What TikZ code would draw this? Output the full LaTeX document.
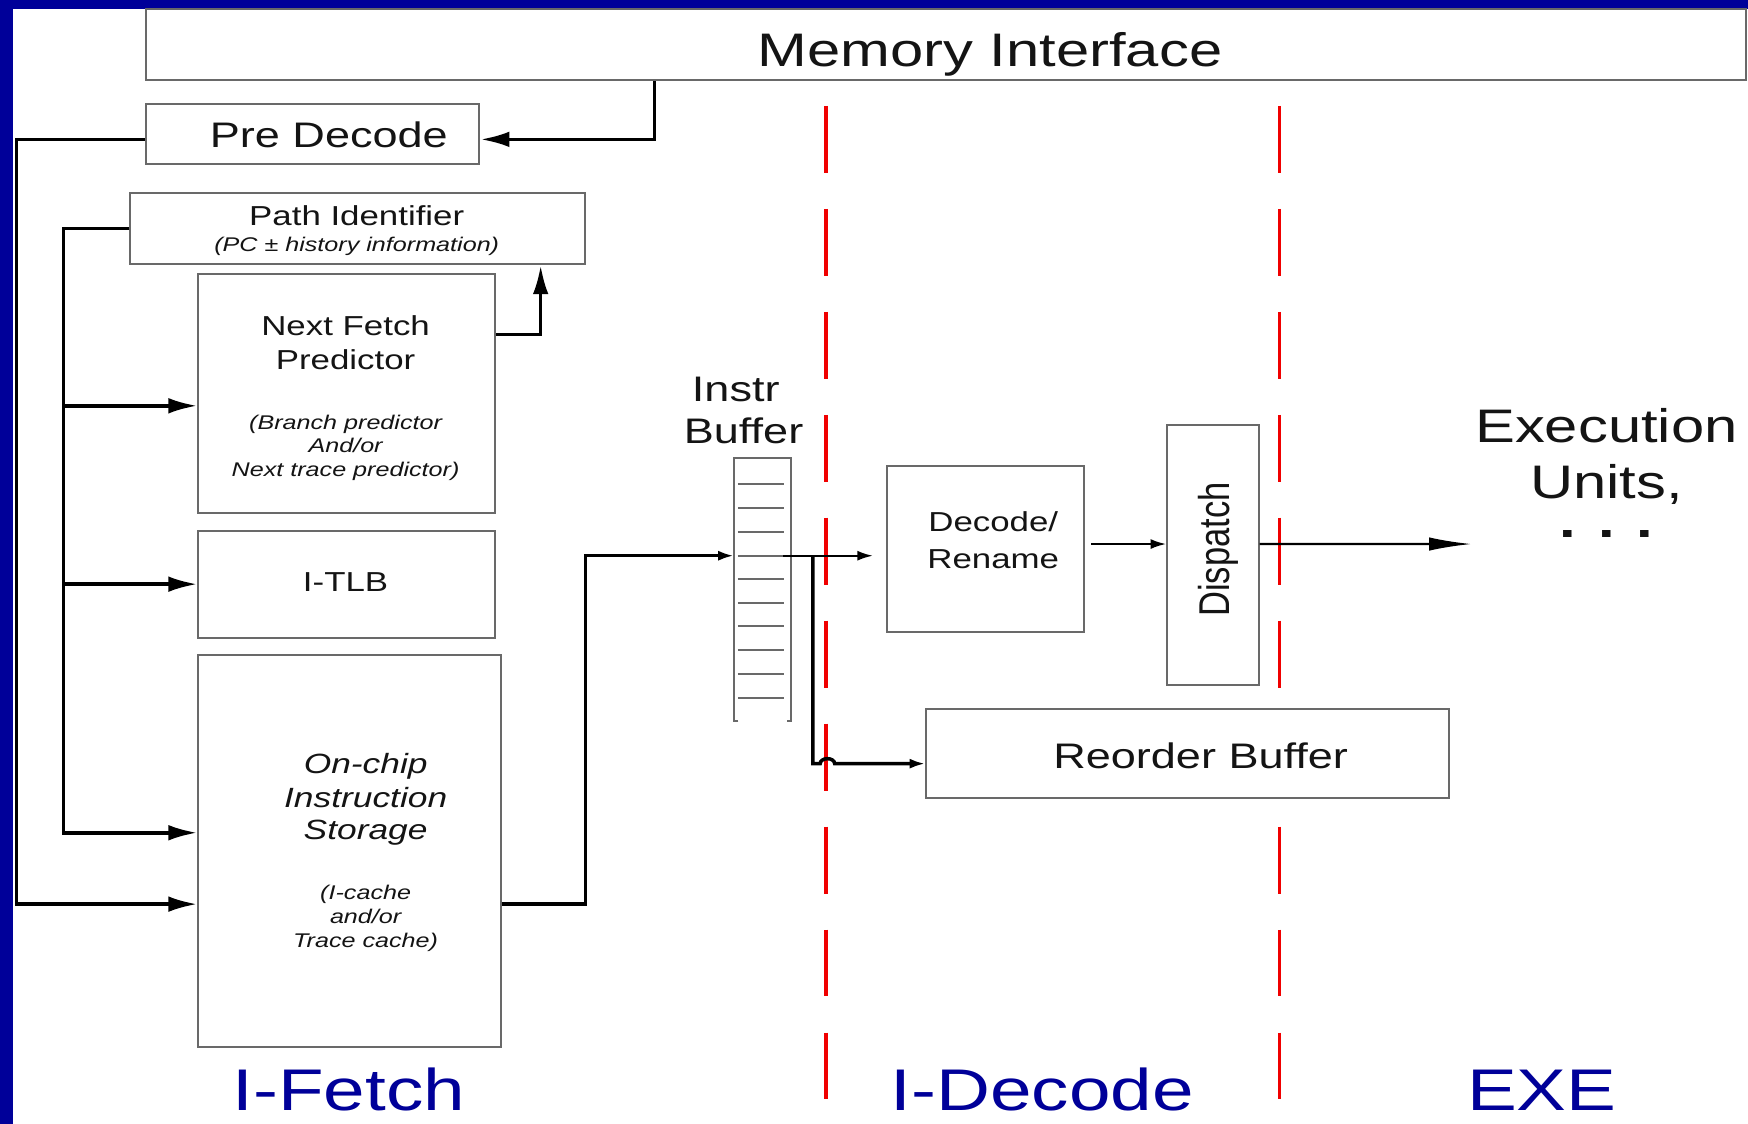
\documentclass[tikz,border=0pt]{standalone}
\usepackage{fontspec}
\usepackage{graphicx}
\setmainfont{Liberation Sans}[FakeStretch=1.27]
\newfontfamily\plainsans{Liberation Sans}
\usetikzlibrary{arrows.meta,calc}
\definecolor{bgblue}{RGB}{0,0,153}
\definecolor{boxgray}{RGB}{105,105,105}
\definecolor{txt}{RGB}{20,20,20}
\definecolor{stagered}{RGB}{240,0,0}
\begin{document}
\begin{tikzpicture}[x=0.01cm,y=-0.01cm,
  box/.style={draw=boxgray,line width=0.5pt,fill=white,inner sep=0pt,rectangle},
  lbl/.style={text=txt,inner sep=0pt,anchor=base},
  conn/.style={line width=0.9pt,black},
  thinconn/.style={line width=0.55pt,black},
  bigtip/.style={-{Latex[length=0.26cm,width=0.14cm]}},
  smalltip/.style={-{Latex[length=0.14cm,width=0.09cm]}},
  longtip/.style={-{Latex[length=0.38cm,width=0.12cm]}},
  stage/.style={text=bgblue,inner sep=0pt,anchor=base,font=\fontsize{15}{18}\selectfont},
  redline/.style={stagered,line width=0.85pt,dash pattern=on 0.6cm off 0.323cm},
  fA/.style={font=\fontsize{12}{14}\selectfont},
  fB/.style={font=\fontsize{9.05}{11}\selectfont},
  fC/.style={font=\fontsize{7}{9}\selectfont},
  fCi/.style={font=\fontsize{7.1}{9}\selectfont\itshape},
  fD/.style={font=\fontsize{5.05}{6}\selectfont\itshape},
]
% background
\fill[bgblue] (0,0) rectangle (1568,1008);
\fill[white] (12,8) rectangle (1568,1008);
\useasboundingbox (0,0) rectangle (1568,1008);

% stage separators
\draw[redline] (741,95) -- (741,986);
\draw[redline] (1148,95) -- (1148,986);

% boxes
\node[box,minimum width=14.35cm,minimum height=0.64cm] (mem) at (848.5,40) {};
\node[box,minimum width=2.99cm,minimum height=0.54cm] (pre) at (280.5,120) {};
\node[box,minimum width=4.08cm,minimum height=0.64cm] (pid) at (321,205) {};
\node[box,minimum width=2.66cm,minimum height=2.14cm] (nfp) at (311,353) {};
\node[box,minimum width=2.66cm,minimum height=0.96cm] (itlb) at (311,524) {};
\node[box,minimum width=2.71cm,minimum height=3.51cm] (ocs) at (313.5,763.5) {};
\node[box,minimum width=1.76cm,minimum height=1.49cm] (dec) at (884,492.5) {};
\node[box,minimum width=0.82cm,minimum height=2.33cm] (disp) at (1088,497.5) {};
\node[box,minimum width=4.69cm,minimum height=0.80cm] (rob) at (1065.5,676) {};
\node[inner sep=0pt,minimum width=0.50cm,minimum height=2.34cm] (ibuf) at (684,529) {};

% instruction buffer drawing
\draw[boxgray,line width=0.5pt] ([xshift=0.04cm]ibuf.south west) -| (ibuf.north west) -- (ibuf.north east) |- ([xshift=-0.04cm]ibuf.south east);
\foreach \yy in {434.5,455.7,477.2,498.5,519.4,540.6,561.8,583.1,604.3,625.8}
  \draw[boxgray,line width=0.5pt] (662,\yy) -- (703,\yy);

% helper coordinates
\coordinate (mx) at (587,0);
\coordinate (busL) at (15,0);
\coordinate (busM) at (57,0);
\coordinate (px) at (485,0);
\coordinate (ibx) at (525,0);
\coordinate (ocsA) at ([yshift=0.165cm]ocs.west);
\coordinate (ocsB) at ([yshift=-0.475cm]ocs.west);
\coordinate (ocsOut) at ([yshift=-0.475cm]ocs.east);
\coordinate (nfpA) at ([yshift=-0.11cm]nfp.west);
\coordinate (nfpOut) at ([yshift=0.53cm]nfp.east);
\coordinate (ibufIn) at ([yshift=0.305cm]ibuf.west);
\coordinate (ibufOut) at ([xshift=-0.07cm,yshift=0.305cm]ibuf.east);
\coordinate (brTop) at ([xshift=0.265cm]ibufOut);
\coordinate (robIn) at ([yshift=-0.09cm]rob.west);
\coordinate (decOut) at ([yshift=0.045cm]dec.east);
\coordinate (dispOut) at ([yshift=0.095cm]disp.east);
\coordinate (exeIn) at (1320,488);

% connectors
\draw[conn,bigtip] (mem.south -| mx) |- ([yshift=-0.05cm]pre.east);
\draw[conn,bigtip] ([yshift=-0.05cm]pre.west) -| (busL |- ocsB) -- (ocsB);
\draw[conn,bigtip] (pid.west) -| (busM |- ocsA) -- (ocsA);
\draw[conn,bigtip] (busM |- nfpA) -- (nfpA);
\draw[conn,bigtip] (busM |- itlb.west) -- (itlb.west);
\draw[conn,bigtip] (nfpOut) -| (pid.south -| px);
\draw[conn,smalltip] (ocsOut) -| (ibx |- ibufIn) -- (ibufIn);
\draw[thinconn,smalltip,shorten >=0.12cm] (ibufOut) -- (dec.west |- ibufOut);
\draw[conn,smalltip] (brTop) -- (brTop |- robIn) -- ++(0.065cm,0)
  arc[start angle=180,end angle=0,x radius=0.065cm,y radius=0.045cm] -- (robIn);
\draw[thinconn,smalltip,shorten <=0.06cm] (decOut) -- (disp.west |- decOut);
\draw[thinconn,longtip] (dispOut) -- (exeIn);

% texts
\node[lbl,fA] (memtxt) at (888,60) {Memory Interface};
\node[lbl,fB] (pretxt) at (295,132) {Pre Decode};
\node[lbl,fC] (pidtxt) at (320,202) {Path Identifier};
\node[lbl,fD] (pidsub) at (320,226) {(PC ± history information)};
\node[lbl,fC] (nfp1) at (310,301) {Next Fetch};
\node[lbl,fC] (nfp2) at (310,331) {Predictor};
\node[lbl,fD] (nfp3) at (310,385.5) {(Branch predictor};
\node[lbl,fD] (nfp4) at (310,406) {And/or};
\node[lbl,fD] (nfp5) at (310,427.5) {Next trace predictor)};
\node[lbl,fC] (itlbtxt) at (310,531) {I-TLB};
\node[lbl,fCi] (ocs1) at (328,694) {On-chip};
\node[lbl,fCi] (ocs2) at (328,724) {Instruction};
\node[lbl,fCi] (ocs3) at (328,753) {Storage};
\node[lbl,fD] (ocs4) at (328,807) {(I-cache};
\node[lbl,fD] (ocs5) at (328,828) {and/or};
\node[lbl,fD] (ocs6) at (328,850) {Trace cache)};
\node[lbl,fB] (ib1) at (660,360) {Instr};
\node[lbl,fB] (ib2) at (667,398) {Buffer};
\node[lbl,fC] (dec1) at (891,477) {Decode/};
\node[lbl,fC] (dec2) at (891,510) {Rename};
\node[text=txt,inner sep=0pt,rotate=90,font=\plainsans\fontsize{8.8}{10}\selectfont] (disptxt) at (1093,493) {\scalebox{1}[1.25]{Dispatch}};
\node[lbl,fB] (robtxt) at (1077,689) {Reorder Buffer};
\node[text=txt,inner sep=0pt,anchor=north,align=center,font=\fontsize{12}{14.22}\selectfont] (exetxt) at (1441,366) {Execution\\Units,\\[-0.15cm]{\bfseries . . .}};
\node[stage] (st1) at (313,996) {I-Fetch};
\node[stage] (st2) at (935,996) {I-Decode};
\node[stage] (st3) at (1383,996) {EXE};
\end{tikzpicture}
\end{document}
